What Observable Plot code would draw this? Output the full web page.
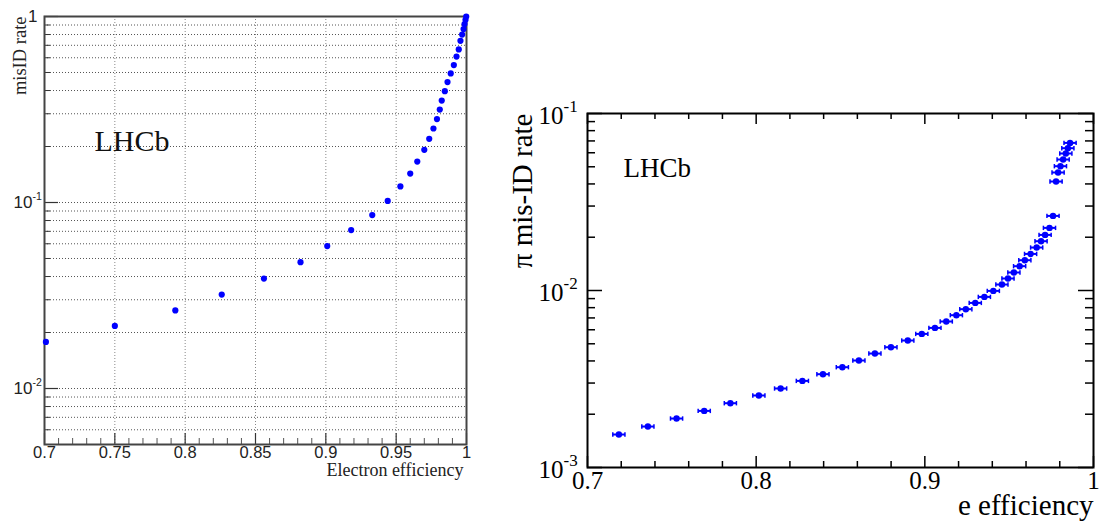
<!DOCTYPE html>
<html><head><meta charset="utf-8">
<script src="https://cdn.jsdelivr.net/npm/d3@7"></script>
<script src="https://cdn.jsdelivr.net/npm/@observablehq/plot@0.6"></script>
<style>
body{margin:0;background:#fff;}
#wrap{position:relative;width:1102px;height:529px;overflow:hidden;background:#fff;}
#left{position:absolute;left:0;top:0;}
#right{position:absolute;left:490px;top:0;}
</style></head><body><div id="wrap"><div id="left"></div><div id="right"></div></div>
<script>
// ---------- Left panel data ----------
const leftEff = [0.701,0.750,0.793,0.826,0.856,0.882,0.901,0.918,0.933,0.944,0.953,0.960,0.965,0.970,0.9735,0.9765,0.979,0.981,0.9824,0.9846,0.9865,0.9888,0.991,0.9929,0.9945,0.9957,0.9969,0.9979,0.9986,0.9993,0.9998];
const leftMisID = [0.0178,0.0217,0.0263,0.0320,0.0390,0.0478,0.0583,0.0711,0.0856,0.102,0.122,0.143,0.166,0.192,0.220,0.250,0.281,0.316,0.353,0.397,0.444,0.494,0.548,0.609,0.665,0.740,0.800,0.856,0.910,0.960,1.0];
const leftXTicks = [0.7,0.75,0.8,0.85,0.9,0.95,1];
const leftXLabels = ["0.7","0.75","0.8","0.85","0.9","0.95","1"];
const leftYDecades = [0.01,0.1];
const leftYExp = ["-2","-1"];
const leftYTop = [1];

// ---------- Right panel data ----------
const rightEff = [0.7186,0.7358,0.7528,0.7692,0.7847,0.8016,0.8145,0.8274,0.8396,0.8511,0.8609,0.8704,0.8799,0.8899,0.8982,0.9060,0.9127,0.9187,0.9243,0.9299,0.9353,0.9406,0.9457,0.9493,0.9528,0.9562,0.9593,0.9627,0.9663,0.9689,0.9713,0.9739,0.9760,0.9778,0.9790,0.9804,0.9820,0.9836,0.9848,0.9861];
const rightMisID = [0.001536,0.001704,0.001891,0.002088,0.002308,0.002552,0.002795,0.003085,0.003366,0.003687,0.004022,0.004405,0.004781,0.005218,0.005686,0.006148,0.006682,0.007253,0.007843,0.008509,0.009201,0.009948,0.01081,0.01169,0.01264,0.01372,0.01483,0.01609,0.01749,0.01899,0.02061,0.02258,0.02639,0.04128,0.04642,0.05038,0.05496,0.05943,0.06368,0.06822];
const rightEffErr = 0.0036;
const rightXTicks = [0.7,0.8,0.9,1];
const rightXLabels = ["0.7","0.8","0.9","1"];
const rightYDecades = [0.001,0.01,0.1];
const rightYExp = ["-3","-2","-1"];

// ---------- helpers ----------
const logMinor = (lo, hi) => {
  const out = [];
  for (let e = -4; e <= 0; e++) for (let m = 2; m <= 9; m++) {
    const v = m * Math.pow(10, e);
    if (v >= lo * 0.999 && v <= hi * 1.001) out.push(v);
  }
  return out;
};

// ---------- Left panel ----------
{
  const W = 480, H = 529, mL = 44, mR = 14, mT = 16, mB = 85;
  const iW = W - mL - mR, iH = H - mT - mB;
  const data = leftEff.map((x, i) => ({x, y: leftMisID[i]}));
  const minorY = logMinor(0.005, 1);
  const gridY = minorY.concat([0.01, 0.1]);
  const minorX = d3.range(71, 100).map(d => d / 100).filter(d => Math.round(d * 100) % 5 !== 0);
  const sans = "Liberation Sans, Arial, sans-serif";
  const serif = "Liberation Serif, Times New Roman, serif";
  const chart = Plot.plot({
    width: W, height: H, marginLeft: mL, marginRight: mR, marginTop: mT, marginBottom: mB,
    style: {background: "#fff", overflow: "visible"},
    x: {domain: [0.7, 1], axis: null},
    y: {type: "log", domain: [0.005, 1], axis: null},
    marks: [
      Plot.ruleY(gridY, {stroke: "#555", strokeWidth: 1, strokeDasharray: "1,2"}),
      Plot.ruleX(leftXTicks.slice(1, -1), {stroke: "#888", strokeWidth: 1, strokeDasharray: "1,2"}),
      Plot.tickY(minorY, {stroke: "#333", strokeWidth: 1, insetRight: iW - 6}),
      Plot.tickY(leftYDecades.concat(leftYTop), {stroke: "#333", strokeWidth: 1.2, insetRight: iW - 14}),
      Plot.tickX(minorX, {stroke: "#555", strokeWidth: 1, insetTop: iH - 6}),
      Plot.tickX(leftXTicks, {stroke: "#333", strokeWidth: 1.2, insetTop: iH - 11}),
      Plot.frame({stroke: "#444", strokeWidth: 2}),
      Plot.dot(data, {x: "x", y: "y", r: 3.1, fill: "#0000ff", stroke: null}),
      Plot.text(leftXTicks, {x: d => d, frameAnchor: "bottom", dy: 13, text: (d, i) => leftXLabels[i], fontSize: 16.5, fontFamily: sans, fill: "#222"}),
      Plot.text(leftYDecades, {y: d => d, frameAnchor: "left", dx: -12, textAnchor: "end", text: () => "10", fontSize: 17, fontFamily: sans, fill: "#222"}),
      Plot.text(leftYDecades, {y: d => d, frameAnchor: "left", dx: -12, dy: -6, textAnchor: "start", text: (d, i) => leftYExp[i], fontSize: 10.5, fontFamily: sans, fill: "#222"}),
      Plot.text(leftYTop, {y: d => d, frameAnchor: "left", dx: -7, textAnchor: "end", text: () => "1", fontSize: 17, fontFamily: sans, fill: "#222"}),
      Plot.text(["LHCb"], {frameAnchor: "top-left", dx: 50, dy: 113, textAnchor: "start", text: d => d, fontSize: 30, fontFamily: serif, fill: "#111"}),
      Plot.text(["Electron efficiency"], {frameAnchor: "bottom-right", dx: -3, dy: 31, textAnchor: "end", text: d => d, fontSize: 18, fontFamily: serif, fill: "#222"}),
      Plot.text(["misID rate"], {frameAnchor: "top-left", dx: -32, dy: 0, rotate: -90, textAnchor: "end", text: d => d, fontSize: 18.5, fontFamily: serif, fill: "#222"})
    ]
  });
  document.getElementById("left").appendChild(chart);
}

// ---------- Right panel ----------
{
  const W = 612, H = 529, mL = 97, mR = 9, mT = 113, mB = 62;
  const iW = W - mL - mR, iH = H - mT - mB;
  const data = rightEff.map((x, i) => ({x, y: rightMisID[i]}));
  const minorY = logMinor(0.001, 0.1);
  const minorX = d3.range(72, 100, 2).map(d => d / 100).filter(d => Math.round(d * 100) % 10 !== 0);
  const serif = "Liberation Serif, Times New Roman, serif";
  const capSymbol = {draw(ctx, size) { const r = Math.sqrt(size / Math.PI); ctx.moveTo(0, -r); ctx.lineTo(0, r); }};
  const blue = "#0000ff";
  const chart = Plot.plot({
    width: W, height: H, marginLeft: mL, marginRight: mR, marginTop: mT, marginBottom: mB,
    style: {background: "#fff", overflow: "visible"},
    x: {domain: [0.7, 1], axis: null},
    y: {type: "log", domain: [0.001, 0.1], axis: null},
    marks: [
      Plot.tickY(minorY, {stroke: "#000", strokeWidth: 1.5, insetRight: iW - 8}),
      Plot.tickY(minorY, {stroke: "#000", strokeWidth: 1.5, insetLeft: iW - 8}),
      Plot.tickY(rightYDecades, {stroke: "#000", strokeWidth: 1.5, insetRight: iW - 15}),
      Plot.tickY(rightYDecades, {stroke: "#000", strokeWidth: 1.5, insetLeft: iW - 15}),
      Plot.tickX(minorX, {stroke: "#000", strokeWidth: 1.5, insetTop: iH - 6}),
      Plot.tickX(minorX, {stroke: "#000", strokeWidth: 1.5, insetBottom: iH - 6}),
      Plot.tickX(rightXTicks, {stroke: "#000", strokeWidth: 1.5, insetTop: iH - 11}),
      Plot.tickX(rightXTicks, {stroke: "#000", strokeWidth: 1.5, insetBottom: iH - 11}),
      Plot.frame({stroke: "#000", strokeWidth: 2}),
      Plot.link(data, {x1: d => d.x - rightEffErr, x2: d => d.x + rightEffErr, y1: "y", y2: "y", stroke: blue, strokeWidth: 2}),
      Plot.dot(data, {x: d => d.x - rightEffErr, y: "y", symbol: capSymbol, r: 2.2, stroke: blue, strokeWidth: 1.5, fill: "none"}),
      Plot.dot(data, {x: d => d.x + rightEffErr, y: "y", symbol: capSymbol, r: 2.2, stroke: blue, strokeWidth: 1.5, fill: "none"}),
      Plot.dot(data, {x: "x", y: "y", r: 3.2, fill: blue, stroke: null}),
      Plot.text(rightXTicks, {x: d => d, frameAnchor: "bottom", dy: 21, text: (d, i) => rightXLabels[i], fontSize: 25, fontFamily: serif, fill: "#000"}),
      Plot.text(rightYDecades, {y: d => d, frameAnchor: "left", dx: -24, dy: 2, textAnchor: "end", text: () => "10", fontSize: 25, fontFamily: serif, fill: "#000"}),
      Plot.text(rightYDecades, {y: d => d, frameAnchor: "left", dx: -24, dy: -7, textAnchor: "start", text: (d, i) => rightYExp[i], fontSize: 17, fontFamily: serif, fill: "#000"}),
      Plot.text(["LHCb"], {frameAnchor: "top-left", dx: 36, dy: 44, textAnchor: "start", text: d => d, fontSize: 27, fontFamily: serif, fill: "#000"}),
      Plot.text(["e efficiency"], {frameAnchor: "bottom-right", dx: 0, dy: 47, textAnchor: "end", text: d => d, fontSize: 29, fontFamily: serif, fill: "#000"}),
      Plot.text(["\u03c0 mis-ID rate"], {frameAnchor: "top-left", dx: -76, dy: 0, rotate: -90, textAnchor: "end", text: d => d, fontSize: 29, fontFamily: serif, fill: "#000"})
    ]
  });
  document.getElementById("right").appendChild(chart);
}
</script>
</body></html>
